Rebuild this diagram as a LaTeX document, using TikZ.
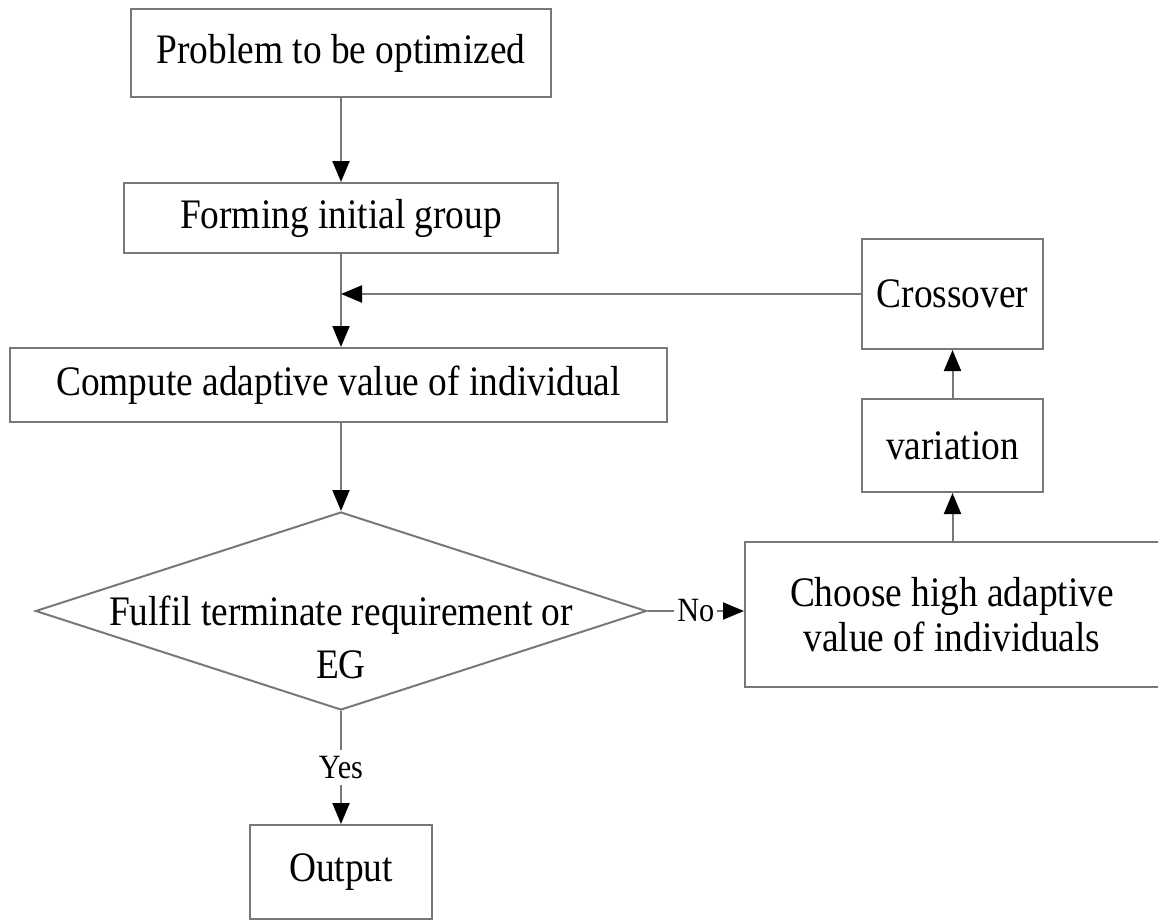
\documentclass[tikz,border=0pt]{standalone}
\usepackage{fontspec}
\setmainfont[FakeStretch=0.89]{Liberation Serif}
\usetikzlibrary{arrows.meta,shapes.geometric}
\definecolor{linegray}{RGB}{120,120,120}
\begin{document}
\begin{tikzpicture}[x=1pt,y=-1pt,
  box/.style={draw=linegray, line width=2pt, inner sep=0pt, align=center,
    font=\fontsize{42}{45}\selectfont},
  conn/.style={draw=linegray, line width=2pt,
    -{Triangle[length=21pt,width=17pt,color=black]}},
  lbl/.style={fill=white, inner xsep=3pt, inner ysep=6pt, font=\fontsize{34}{36}\selectfont}]
\useasboundingbox (0,0) rectangle (1158,923);
\node[box, minimum width=420pt, minimum height=88pt] (p) at (341,53) {Problem to be optimized};
\node[box, minimum width=434pt, minimum height=70pt] (f) at (341,218) {Forming initial group};
\node[box, minimum width=657pt, minimum height=74pt] (c) at (338.5,385) {Compute adaptive value of individual};
\node[box, shape=diamond, minimum width=611pt, minimum height=198pt] (d) at (341,611)
  {\makebox[0pt]{\raisebox{-38pt}[0pt][0pt]{\begin{tabular}{@{}c@{}}Fulfil terminate requirement or\\[8pt]EG\end{tabular}}}};
\node[box, minimum width=182pt, minimum height=94pt] (o) at (341,872) {Output};
\node[box, minimum width=414pt, minimum height=145pt] (ch) at (952,614.5) {Choose high adaptive\\value of individuals};
\node[box, minimum width=181pt, minimum height=93pt] (v) at (952.5,445.5) {variation};
\node[box, minimum width=181pt, minimum height=110pt] (x) at (952.5,294) {Crossover};
\draw[conn] (p) -- (f);
\draw[conn] (f) -- (f.south |- c.north);
\coordinate (j) at (x.west -| f.south);
\draw[conn] (x.west) -- (j);
\draw[conn] (c.south -| d.north) -- (d.north);
\draw[conn] (d.east) -- node[lbl] {No} (ch.west |- d.east);
\draw[conn] (d.south) -- node[lbl] {Yes} (o.north);
\draw[conn] (ch.north -| v.south) -- (v.south);
\draw[conn] (v.north) -- (x.south);
\end{tikzpicture}
\end{document}
